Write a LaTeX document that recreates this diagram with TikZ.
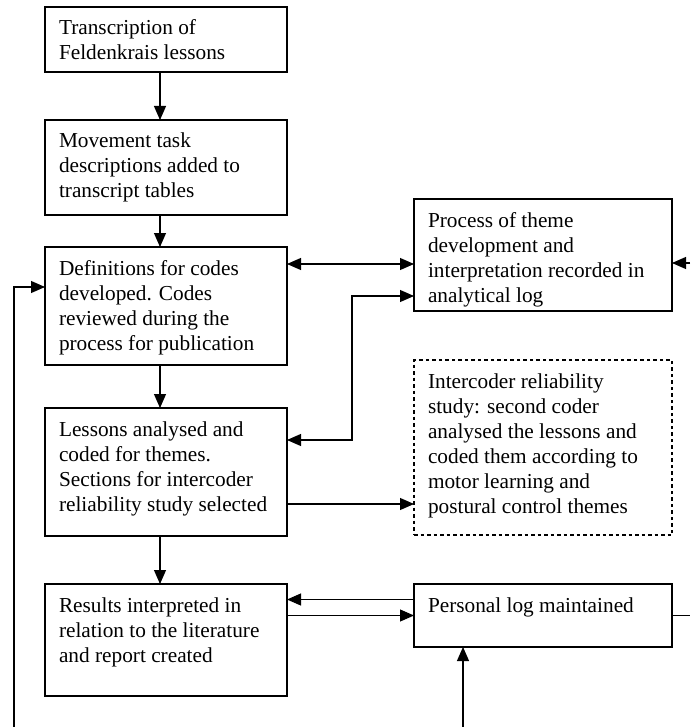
\documentclass[tikz,border=0pt]{standalone}
\usepackage{fontspec}
\setmainfont{Liberation Serif}
\usetikzlibrary{arrows.meta,positioning}
\newcommand{\steptext}[3]{\parbox[t][#2][t]{#1}{\raggedright\leftskip=14pt\rule{0pt}{28pt}#3}}

\begin{document}
\begin{tikzpicture}[x=1pt, y=1pt,
  box/.style={draw, line width=1.1pt, inner sep=0pt, outer sep=0pt, font=\fontsize{21.3}{25}\selectfont},
  dashbox/.style={box, dash pattern=on 3.5pt off 3pt},
  arr/.style={-{Triangle[length=14pt,width=12pt]}, line width=1.1pt},
  biarr/.style={{Triangle[length=14pt,width=12pt]}-{Triangle[length=14pt,width=12pt]}, line width=1.1pt}
]
  \useasboundingbox (0,0) rectangle (690,-727);

  % main column
  \node[box, anchor=north west] (transcr) at (45,-7) {\steptext{242pt}{65pt}{Transcription of\\Feldenkrais lessons}};
  \node[box, below=48pt of transcr] (tasks) {\steptext{242pt}{95pt}{Movement task\\descriptions added to\\transcript tables}};
  \node[box, below=32pt of tasks] (codes) {\steptext{242pt}{118pt}{Definitions for codes\\developed. Codes\\reviewed during the\\process for publication}};
  \node[box, below=43pt of codes] (analysis) {\steptext{242pt}{128pt}{Lessons analysed and\\coded for themes.\\Sections for intercoder\\reliability study selected}};
  \node[box, below=48pt of analysis] (results) {\steptext{242pt}{112pt}{Results interpreted in\\relation to the literature\\and report created}};

  % side column
  \node[box, anchor=north west] (themes) at (414,-199) {\steptext{258pt}{112pt}{Process of theme\\development and\\interpretation recorded in\\analytical log}};
  \node[dashbox, anchor=north west] (intercoder) at (414,-360) {\steptext{258pt}{175pt}{Intercoder reliability\\study: second coder\\analysed the lessons and\\coded them according to\\motor learning and\\postural control themes}};
  \node[box, anchor=north west] (perslog) at (414,-584) {\steptext{258pt}{63pt}{Personal log maintained}};

  % loose ends at the page border
  \coordinate (rightin) at (690,-263);
  \coordinate (rightout) at (690,-616);
  \coordinate (leftloop) at (14,-727);
  \coordinate (bottomin) at (463,-727);
  \coordinate (bend) at (352,-296);

  \draw[arr] ([xshift=-6pt]transcr.south) -- ([xshift=-6pt]tasks.north);
  \draw[arr] ([xshift=-6pt]tasks.south) -- ([xshift=-6pt]codes.north);
  \draw[arr] ([xshift=-6pt]codes.south) -- ([xshift=-6pt]analysis.north);
  \draw[arr] ([xshift=-6pt]analysis.south) -- ([xshift=-6pt]results.north);

  \draw[biarr] ([yshift=42pt]codes.east) -- ([yshift=42pt]codes.east -| themes.west);
  \draw[arr] (rightin) -- (rightin -| themes.east);
  \draw[biarr] ([yshift=32pt]analysis.east) -| (bend) -- (bend -| themes.west);
  \draw[arr] ([yshift=-32pt]analysis.east) -- ([yshift=-32pt]analysis.east -| intercoder.west);

  \draw[arr] ([yshift=16pt]perslog.west) -- ([yshift=16pt]perslog.west -| results.east);
  \draw[arr] (results.east |- perslog.west) -- (perslog.west);
  \draw[line width=1.1pt] (perslog.east) -- (perslog.east -| rightout);
  \draw[arr] (bottomin) -- (bottomin |- perslog.south);
  \draw[arr] (leftloop) |- ([yshift=19pt]codes.west);
\end{tikzpicture}
\end{document}
